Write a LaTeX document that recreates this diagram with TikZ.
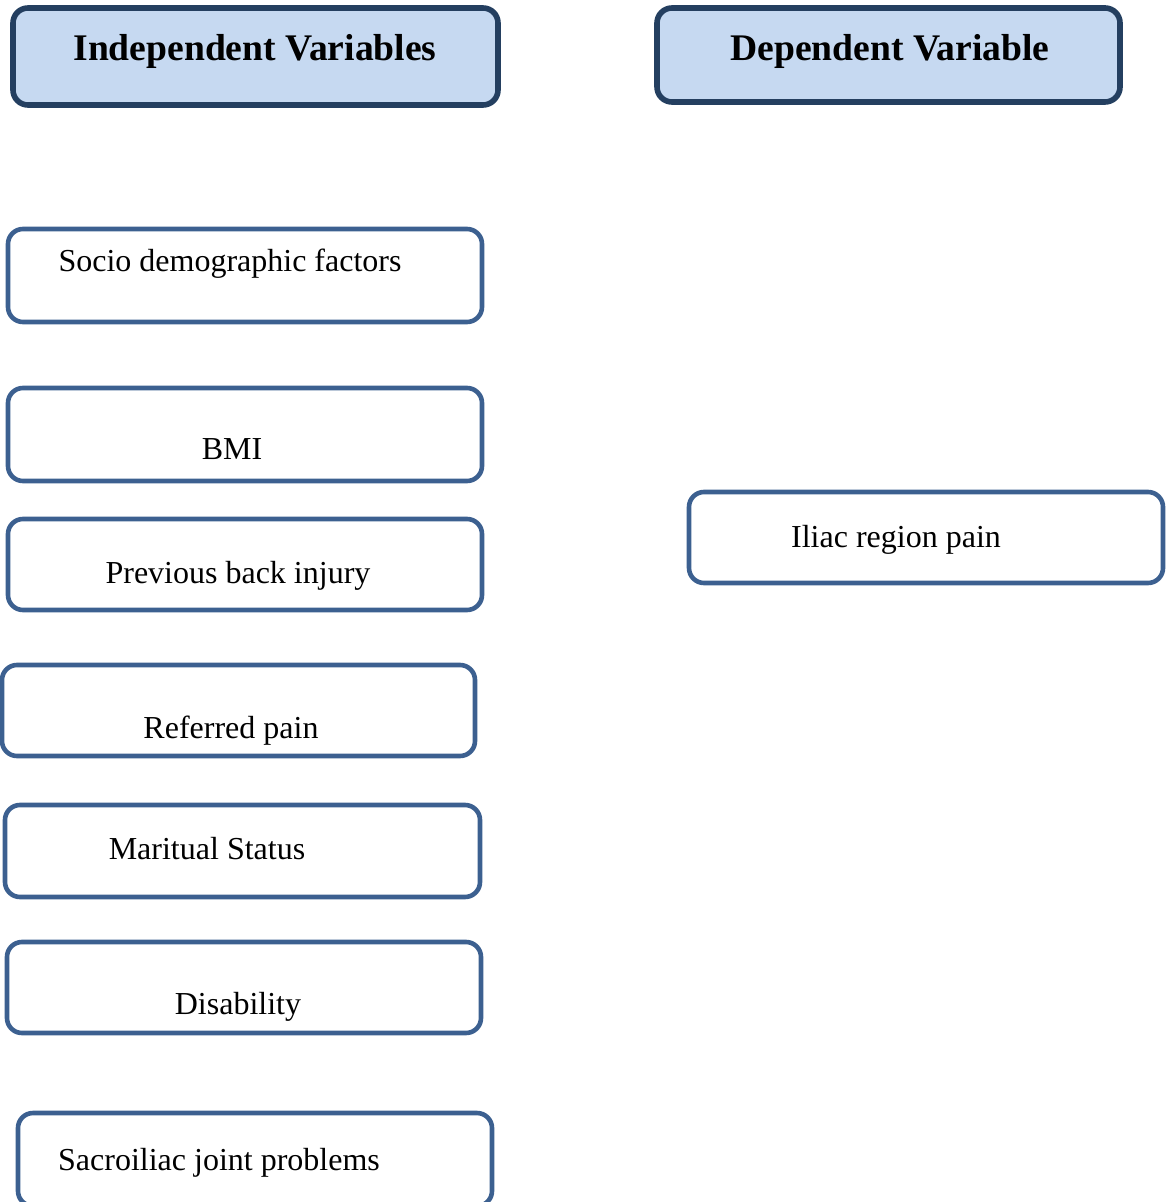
\documentclass[tikz,border=0pt]{standalone}
\usepackage{fontspec}
\setmainfont{Liberation Serif}
\definecolor{headfill}{HTML}{C6D9F1}
\definecolor{headline}{HTML}{243F60}
\definecolor{boxline}{HTML}{3C6090}
\begin{document}
\begin{tikzpicture}[
  x=0.5pt, y=-0.5pt,
  head/.style={draw=headline, fill=headfill, line width=2.8pt, rounded corners=7.5pt, inner sep=0pt},
  box/.style={draw=boxline, line width=2.3pt, rounded corners=7.5pt, inner sep=0pt},
  htxt/.style={anchor=base, inner sep=0pt, font=\fontsize{18.8}{22}\selectfont\bfseries},
  txt/.style={anchor=base, inner sep=0pt, font=\fontsize{16}{19}\selectfont}
]
\useasboundingbox (0,0) rectangle (1167,1202);

% headings
\node[head, minimum width=242.5pt, minimum height=48.5pt] (indep) at (255.5,56.5) {};
\node[head, minimum width=231.5pt, minimum height=47pt] (dep) at (888.5,55) {};
\node[htxt] (indeptxt) at (255,61) {Independent Variables};
\node[htxt] (deptxt) at (890,61) {Dependent Variable};

% independent variables
\node[box, minimum width=237pt, minimum height=46.5pt] (socio) at (245,275.5) {};
\node[box, minimum width=237pt, minimum height=46.5pt] (bmi) at (245,434.5) {};
\node[box, minimum width=237pt, minimum height=45.5pt] (injury) at (245,564.5) {};
\node[box, minimum width=236.5pt, minimum height=45.5pt] (referred) at (238.5,710.5) {};
\node[box, minimum width=237.5pt, minimum height=46pt] (marital) at (242.5,851) {};
\node[box, minimum width=237pt, minimum height=45.5pt] (disab) at (244,987.5) {};
\node[box, minimum width=237pt, minimum height=46.5pt] (sacro) at (255,1159.5) {};

\node[txt] (sociotxt) at (230,272) {Socio demographic factors};
\node[txt] (bmitxt) at (232,459) {BMI};
\node[txt] (injurytxt) at (238,583) {Previous back injury};
\node[txt] (referredtxt) at (231,738) {Referred pain};
\node[txt] (maritaltxt) at (207,859) {Maritual Status};
\node[txt] (disabtxt) at (238,1014) {Disability};
\node[txt] (sacrotxt) at (219,1170) {Sacroiliac joint problems};

% dependent variable
\node[box, minimum width=237pt, minimum height=45.5pt] (iliac) at (926,537.5) {};
\node[txt] (iliactxt) at (896,547) {Iliac region pain};
\end{tikzpicture}
\end{document}
